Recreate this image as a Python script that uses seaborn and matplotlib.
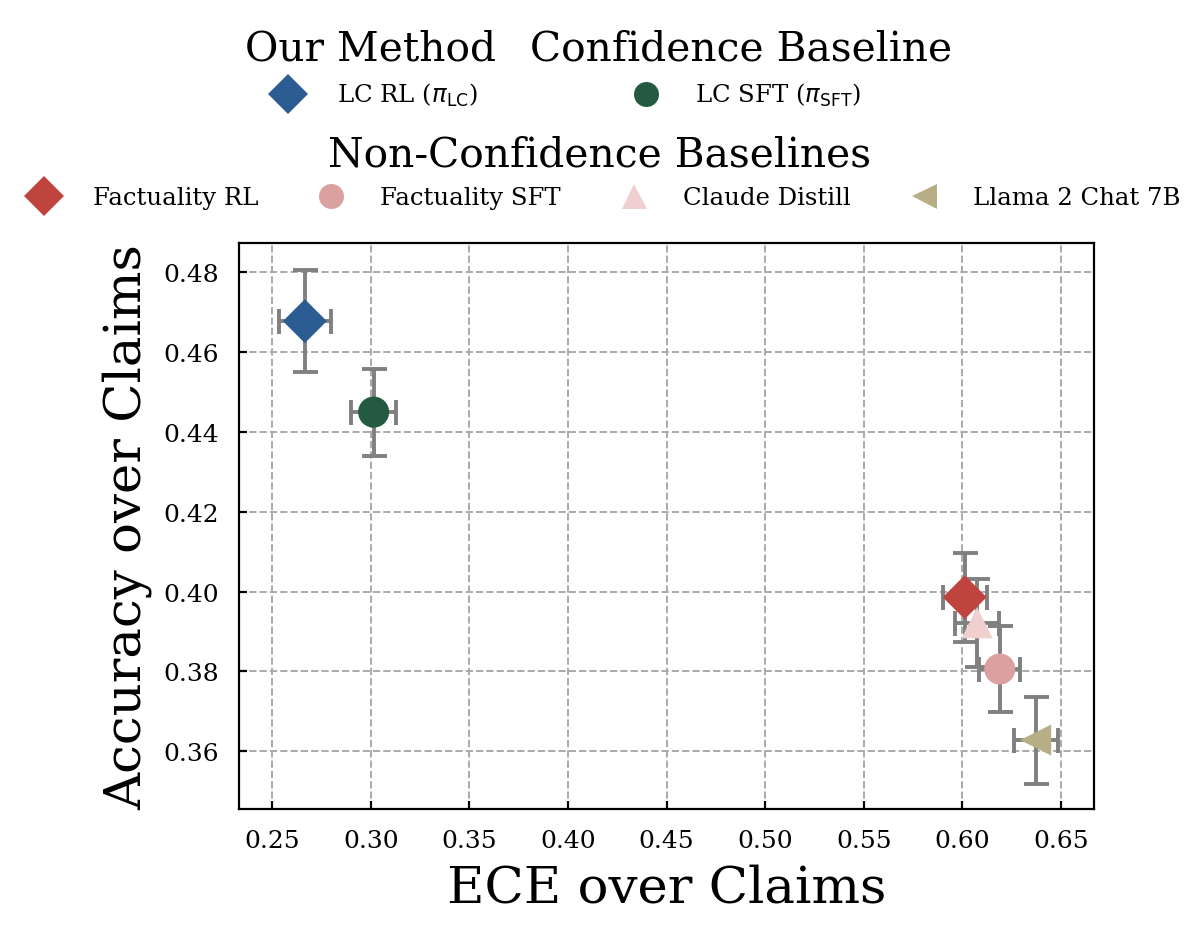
import matplotlib
matplotlib.use("Agg")
import matplotlib.pyplot as plt
from matplotlib.lines import Line2D
import seaborn as sns
import pandas as pd

methods = ["LC RL", "LC SFT", "Factuality RL", "Factuality SFT", "Claude Distill", "Llama 2 Chat 7B"]
legend_labels = [r"LC RL ($\pi_{\mathrm{LC}}$)", r"LC SFT ($\pi_{\mathrm{SFT}}$)",
                 "Factuality RL", "Factuality SFT", "Claude Distill", "Llama 2 Chat 7B"]
ece = [0.2665, 0.3014, 0.6012, 0.6190, 0.6075, 0.6372]
ece_err = [0.0132, 0.0114, 0.0112, 0.0105, 0.0110, 0.0111]
acc = [0.4678, 0.4450, 0.3986, 0.3806, 0.3922, 0.3628]
acc_err = [0.0128, 0.0109, 0.0112, 0.0107, 0.0110, 0.0109]
colors = ["#2c5d92", "#245a40", "#bf443d", "#dba0a0", "#f0cfcf", "#b8ae85"]
markers = ["D", "o", "D", "o", "^", "<"]
x_ticks = [0.25, 0.30, 0.35, 0.40, 0.45, 0.50, 0.55, 0.60, 0.65]
y_ticks = [0.36, 0.38, 0.40, 0.42, 0.44, 0.46, 0.48]

df = pd.DataFrame({"method": methods, "ece": ece, "acc": acc})

plt.rcParams["font.family"] = ["DejaVu Serif"]
plt.rcParams["mathtext.fontset"] = "dejavusans"

fig = plt.figure(figsize=(6, 4.645), dpi=200)
ax = fig.add_axes([0.199, 0.128, 0.713, 0.609])

ax.errorbar(ece, acc, xerr=ece_err, yerr=acc_err, fmt="none", ecolor="#808080",
            elinewidth=1.4, capsize=4.5, capthick=1.4, zorder=2)
sns.scatterplot(data=df, x="ece", y="acc", hue="method", style="method",
                palette=dict(zip(methods, colors)), markers=dict(zip(methods, markers)),
                s=125, linewidth=0, legend=False, ax=ax, zorder=3)
ax.set_xlim(0.233, 0.667)
ax.set_ylim(0.3455, 0.4873)
ax.set_xticks(x_ticks)
ax.set_yticks(y_ticks)
ax.set_xticklabels([f"{v:.2f}" for v in x_ticks])
ax.set_yticklabels([f"{v:.2f}" for v in y_ticks])
ax.tick_params(direction="in", labelsize=9, length=3, pad=7)
ax.grid(True, linestyle="--", color="#aaaaaa", linewidth=0.7)
ax.set_axisbelow(True)
ax.set_xlabel("ECE over Claims", fontsize=18.5)
ax.set_ylabel("Accuracy over Claims", fontsize=18.5)

def handle(i):
    ms = 10 if markers[i] == "D" else 9
    return Line2D([], [], linestyle="none", marker=markers[i], color=colors[i],
                  markersize=ms, markeredgewidth=0)

fs = 8.8
tfs = 14.7
leg1 = fig.legend([handle(0)], [legend_labels[0]], title="Our Method", loc="center",
                  bbox_to_anchor=(0.309, 0.925), frameon=False, fontsize=fs,
                  title_fontsize=tfs, handletextpad=1.0)
leg2 = fig.legend([handle(1)], [legend_labels[1]], title="Confidence Baseline", loc="center",
                  bbox_to_anchor=(0.6175, 0.925), frameon=False, fontsize=fs,
                  title_fontsize=tfs, handletextpad=1.0)
leg3 = fig.legend([handle(i) for i in range(2, 6)], legend_labels[2:], title="Non-Confidence Baselines",
                  loc="center", bbox_to_anchor=(0.5, 0.814), frameon=False, fontsize=fs,
                  title_fontsize=tfs, ncol=4, handletextpad=1.0, columnspacing=2.0)

fig.savefig("out.png", dpi=200)
